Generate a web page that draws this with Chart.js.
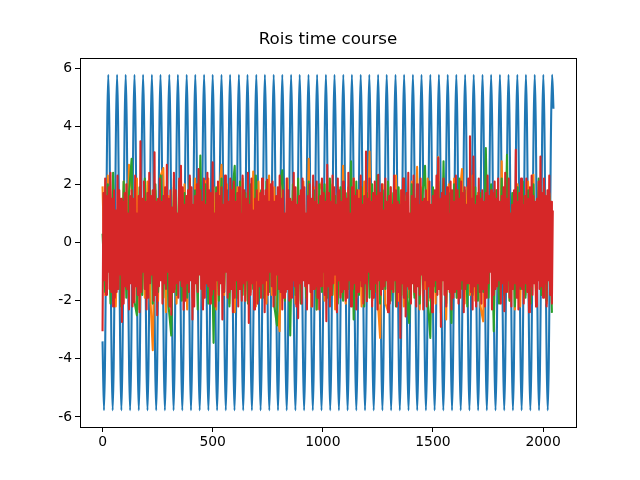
<!DOCTYPE html>
<html>
<head>
<meta charset="utf-8">
<script src="https://cdn.jsdelivr.net/npm/chart.js@4"></script>
<style>
  html, body { margin: 0; padding: 0; background: #fff; }
  #wrap { width: 640px; height: 480px; }
</style>
</head>
<body>
<div id="wrap"><canvas id="roisChart" width="640" height="480"></canvas></div>
<script>
const chartTitle = 'Rois time course';
const xTicks = [0, 500, 1000, 1500, 2000];
const yTicks = [-6, -4, -2, 0, 2, 4, 6];

// blue roi: turning points (x, value)
const blueX = [0,
  6.5, 26, 46, 66, 85.5, 105, 125, 145, 164.5, 184, 204, 224, 243.5, 263, 283, 303,
  322.5, 342, 362, 382, 401.5, 421, 441, 461, 480.5, 500, 520, 540, 559.5, 579, 599, 619,
  638.5, 658, 678, 698, 717.5, 737, 757, 777, 796.5, 816, 836, 856, 875.5, 895, 915, 935,
  954.5, 974, 994, 1014, 1033.5, 1053, 1073, 1093, 1112.5, 1132, 1152, 1172, 1191.5, 1211, 1231, 1251,
  1270.5, 1290, 1310, 1330, 1349.5, 1369, 1389, 1409, 1428.5, 1448, 1468, 1488, 1507.5, 1527, 1547, 1567,
  1586.5, 1606, 1626, 1646, 1665.5, 1685, 1705, 1725, 1744.5, 1764, 1784, 1804, 1823.5, 1843, 1863, 1883,
  1902.5, 1922, 1942, 1962, 1981.5, 2001, 2021, 2041,
  2047];
const blueY = [-3.4,
  -5.77, 5.77, -5.77, 5.77, -5.77, 5.77, -5.77, 5.77, -5.77, 5.77, -5.77, 5.77, -5.77, 5.77, -5.77, 5.77,
  -5.77, 5.77, -5.77, 5.77, -5.77, 5.77, -5.77, 5.77, -5.77, 5.77, -5.77, 5.77, -5.77, 5.77, -5.77, 5.77,
  -5.77, 5.77, -5.77, 5.77, -5.77, 5.77, -5.77, 5.77, -5.77, 5.77, -5.77, 5.77, -5.77, 5.77, -5.77, 5.77,
  -5.77, 5.77, -5.77, 5.77, -5.77, 5.77, -5.77, 5.77, -5.77, 5.77, -5.77, 5.77, -5.77, 5.77, -5.77, 5.77,
  -5.77, 5.77, -5.77, 5.77, -5.77, 5.77, -5.77, 5.77, -5.77, 5.77, -5.77, 5.77, -5.77, 5.77, -5.77, 5.77,
  -5.77, 5.77, -5.77, 5.77, -5.77, 5.77, -5.77, 5.77, -5.77, 5.77, -5.77, 5.77, -5.77, 5.77, -5.77, 5.77,
  -5.77, 5.77, -5.77, 5.77, -5.77, 5.77, -5.77, 5.77,
  4.6];

// orange roi, one value every 12 samples
const orangeStep = 12;
const orangeY = [
  1.93, -1.8, 2.3, -1.5, 2.0, -2.2, 1.6, -1.9, 2.1, -1.6, 2.67, 1.8, -2.05, 2.2, -2.3, 1.5,
  -1.9, 2.1, -1.7, -3.7, 1.8, -2.0, 2.3, 2.56, -2.4, 1.6, -1.8, 2.2, -2.1, 1.9, -1.5, 2.0,
  -2.3, 1.7, -1.9, 2.2, -1.6, 1.8, -2.2, 2.1, 2.2, -2.0, 1.9, -2.3, 1.5, 2.67, -1.8, 2.0,
  -2.1, 1.7, -2.4, 1.9, -1.6, 2.2, -2.0, 1.8, -1.7, 2.44, -2.2, 2.1, -1.9, 1.6, -2.1, 2.3,
  -1.8, 1.9, -2.3, -3.05, 2.0, -1.6, 2.2, -1.9, 1.8, -2.1, 1.7, -2.0, 2.1, -1.7, 2.88, -2.2,
  1.9, -2.3, 1.8, 2.1, -2.0, 2.2, -1.6, 2.0, -2.3, 1.7, -1.8, 2.64, -2.1, 1.9, -1.7, 2.2,
  -1.9, 1.8, -2.2, 2.1, -1.6, 3.13, -2.0, 1.7, -1.8, -3.28, 2.0, -2.1, -2.36, 1.9, -1.7, 2.3,
  -2.0, 1.8, -2.2, 1.6, -1.9, 2.1, -1.8, 2.6, -2.3, 1.9, -1.6, 2.2, -2.0, 1.7, -2.1, 2.94,
  -2.42, 1.8, -2.65, 2.0, -1.7, 2.2, -1.9, 1.6, 2.53, -2.1, 1.9, -1.8, 2.3, -2.0, 1.7, -2.2,
  -2.71, 2.1, -1.6, 1.9, -2.1, 1.8, -1.9, 2.79, -1.7, 2.2, -2.0, 1.6, -2.3, 2.0, -2.2, 1.7,
  -1.8, 2.1, -1.9, 2.33, -2.2, 1.8, -1.6, 2.0, -2.1, 1.7, 0.3
];

// green roi, one value every 12 samples
const greenStep = 12;
const greenY = [
  0.3, -1.7, 2.0, -2.1, 2.4, -1.6, 1.8, -2.2, 2.1, -1.9, 1.7, 2.88, -2.0, -2.5, 1.9, -1.8,
  2.2, -1.6, 1.8, -2.1, 2.0, -1.7, 2.3, -1.9, 1.6, -2.2, -3.2, 1.9, -1.8, 2.1, -2.0, 1.7,
  -1.9, 2.2, -1.6, 1.8, -2.3, 2.99, -1.8, 2.0, -2.1, 1.7, -3.45, 1.9, -2.0, 2.2, -1.7, 1.8,
  -2.2, 1.6, 2.64, -1.9, 2.1, -1.8, 1.7, -2.1, 2.0, -1.6, 2.3, -2.0, 1.8, -1.9, 2.1, -1.7,
  1.9, -2.2, -2.85, 1.8, 2.48, -2.0, 1.6, -3.2, 2.0, -1.8, 2.2, -2.1, 1.7, -1.9, 2.1, -1.6,
  1.8, -2.3, 2.0, -1.7, 2.0, -1.9, 2.2, -1.8, 1.6, -2.1, 1.9, -2.0, 1.7, -1.6, 2.79, -2.65,
  2.1, -1.8, 1.9, -2.2, 1.7, -1.9, 2.0, -1.7, 2.3, -2.1, 1.8, -1.6, 2.1, -2.0, 1.7, -2.2,
  1.9, -1.8, 2.2, -1.7, -2.77, 2.0, -1.9, 1.8, -2.1, 1.6, 2.64, -2.0, -3.28, 1.9, -1.7, 2.1,
  -1.8, 2.79, -2.1, 1.7, -2.77, 2.0, -1.9, 2.2, -1.6, 1.8, -2.2, 2.1, -1.8, 1.9, -2.0, 1.7,
  -1.7, 3.25, -1.9, 2.0, -3.05, 1.8, -2.1, 2.2, -1.8, 3.02, -2.0, 1.7, -2.2, 1.9, -1.6, 2.1,
  -1.9, 1.8, -2.1, 2.0, -1.7, 2.2, -1.8, 1.9, -2.0, 1.6, -2.42
];

// red roi, one value every 4 samples
const redStep = 4;
const redY = [
  -3.05, 1.7, -1.3, 2.2, -1.8, 1.6, -1.0, 1.9, -1.6, 2.4, -1.7, 1.5, -2.2, 1.8, -1.9, 1.1,
  -1.7, 2.3, -1.6, 1.8, -1.1, 1.5, -2.73, 1.4, -2.1, 1.7, -1.5, 2.0, -1.6, 1.0, -2.3, 1.6,
  -1.4, 1.8, -2.2, 1.5, -2.05, 2.3, -1.5, 1.0, -1.8, 1.6, -2.4, 3.48, -1.7, 1.5, -1.0, 2.1,
  -1.6, 1.4, -2.3, 1.7, -1.9, 2.4, -1.4, 1.6, -1.1, 1.8, -2.0, 3.1, -1.8, 1.4, -2.5, 1.5,
  -1.5, 2.2, -1.3, 1.4, -2.1, 1.6, -1.4, 1.9, -1.6, 2.67, -1.0, 1.5, -2.2, 1.8, -2.48, 1.2,
  -1.7, 2.4, -1.6, 1.8, -1.4, 1.0, -1.9, 2.2, -1.3, 2.64, -1.5, 1.9, -2.31, 1.3, -2.0, 1.6,
  -1.4, 1.8, -1.7, 2.3, -1.3, 1.9, -2.65, 1.3, -2.2, 1.6, -1.4, 2.0, -1.7, 2.53, -1.1, 1.8,
  -1.6, 1.4, -2.3, 2.2, -1.9, 1.3, -1.4, 2.4, -1.5, 1.8, -2.1, 1.7, -1.8, 2.76, -1.6, 1.0,
  -2.2, 1.7, -1.3, 2.1, -1.8, 1.6, -1.4, 1.9, -2.65, 1.3, -1.7, 2.3, -1.0, 1.8, -1.9, 1.4,
  -1.7, 2.2, -1.6, 1.8, -2.4, 2.1, -1.9, 1.4, -1.3, 1.7, -2.2, 1.9, -1.6, 1.0, -2.0, 2.3,
  -1.4, 1.8, -2.0, 1.5, -1.3, 2.4, -2.77, 1.3, -1.8, 2.2, -1.4, 1.1, -2.3, 1.5, -1.3, 1.8,
  -2.1, 1.4, -1.5, 1.7, -1.9, 2.2, -1.4, 1.6, -2.4, 1.8, -1.3, 2.16, -1.8, 1.4, -1.0, 2.0,
  -1.5, 2.1, -2.2, 1.4, -1.8, 1.6, -1.1, 1.9, -1.6, 2.3, -1.7, 1.5, -2.3, 1.8, -1.9, 1.0,
  -1.7, 2.2, -1.6, 1.8, -2.0, 1.5, -1.9, 1.4, -1.3, 2.4, -1.5, 1.9, -2.2, 1.3, -2.6, 1.6,
  -1.4, 1.8, -2.1, 2.2, -1.3, 1.9, -1.5, 1.0, -2.3, 1.6, -1.4, 2.0, -1.7, 1.5, -2.2, 2.3,
  -1.6, 1.4, -1.5, 2.1, -1.9, 1.3, -2.3, 1.6, -1.5, 2.2, -1.0, 1.7, -1.8, 1.4, -2.71, 2.67,
  -1.5, 1.7, -2.2, 1.4, -1.8, 2.3, -1.4, 1.9, -1.1, 1.3, -2.4, 2.2, -1.3, 1.8, -1.9, 1.4,
  -1.7, 2.1, -1.6, 1.8, -2.0, 1.5, -1.9, 2.4, -1.3, 1.0, -2.2, 1.9, -1.6, 2.2, -1.4, 1.6,
  -2.3, 1.8, -1.7, 1.5, -1.3, 2.3, -1.5, 1.3, -2.1, 1.6, -1.4, 3.13, -2.02, 1.5, -1.0, 2.2,
  -1.6, 1.4, -2.2, 1.7, -1.9, 2.1, -1.4, 1.6, -2.3, 2.33, -1.3, 1.7, -1.8, 2.0, -1.6, 1.1,
  -1.5, 2.2, -1.3, 1.4, -2.4, 1.6, -2.1, 1.9, -1.6, 1.3, -1.7, 2.3, -1.3, 1.8, -2.2, 1.4,
  -1.7, 1.3, -3.28, 1.8, -1.4, 2.2, -1.9, 1.4, -2.54, 1.7, -1.5, 2.4, -1.6, 1.0, -2.1, 1.6,
  -1.4, 2.3, -1.7, 1.5, -2.2, 2.0, -1.5, 1.3, -1.8, 2.2, -1.1, 1.4, -2.3, 1.5, -1.3, 1.8,
  -2.2, 1.4, -1.5, 2.1, -1.9, 1.3, -2.4, 1.6, -1.5, 1.8, -1.3, 2.3, -1.8, 2.91, -1.6, 1.5,
  -2.9, 1.7, -1.3, 2.2, -1.8, 1.6, -2.2, 1.9, -1.6, 1.0, -1.7, 2.1, -2.3, 1.8, -1.9, 1.4,
  -1.7, 2.3, -1.6, 1.8, -2.1, 1.5, -1.9, 2.1, -1.3, 1.7, -2.4, 1.9, -1.6, 1.3, -1.4, 2.2,
  -1.4, 3.65, -1.7, 1.5, -2.3, 2.96, -1.5, 1.3, -2.2, 1.6, -1.4, 2.2, -1.7, 1.5, -2.1, 1.8,
  -1.6, 1.4, -2.2, 1.7, -1.9, 2.3, -1.4, 1.6, -1.0, 1.8, -2.3, 1.7, -1.8, 2.1, -1.6, 1.5,
  -1.5, 2.2, -1.3, 1.4, -2.1, 1.6, -1.4, 1.9, -2.36, 2.4, -1.7, 1.5, -1.3, 2.2, -1.9, 1.0,
  -2.2, 1.3, -1.6, 1.8, -1.4, 3.19, -1.9, 1.4, -2.3, 1.7, -1.5, 2.2, -1.6, 1.3, -2.1, 1.6,
  -1.4, 2.2, -1.7, 1.5, -2.4, 1.9, -1.5, 2.3, -1.8, 1.6, -1.4, 1.4, -2.2, 1.5, -1.3, 2.1,
  -1.6, 2.96, -1.5, 1.7, -1.9, 2.2, -1.4, 1.6, -2.2, 1.8, -1.3, 2.3, -1.8, 1.4, -2.1, 1.1
];

const xMin = -102.35, xMax = 2149.35;
const yMin = -6.344, yMax = 6.344;
const lineW = 2.08; // 1.5pt at 100 dpi

function toPoints(values, step) {
  return values.map((v, i) => ({ x: i * step, y: v }));
}

// full black frame round the plot area, like matplotlib spines
const frameBox = {
  id: 'frameBox',
  afterDraw(chart) {
    const a = chart.chartArea;
    const ctx = chart.ctx;
    ctx.save();
    ctx.strokeStyle = '#000';
    ctx.lineWidth = 1;
    ctx.strokeRect(Math.round(a.left) + 0.5, Math.round(a.top) + 0.5,
      Math.round(a.right - a.left), Math.round(a.bottom - a.top));
    ctx.restore();
  }
};

const tickFont = { family: 'DejaVu Sans', size: 13.9 };

const ctx = document.getElementById('roisChart').getContext('2d');
new Chart(ctx, {
  type: 'line',
  data: {
    datasets: [
      {
        data: blueX.map((x, i) => ({ x: x, y: blueY[i] })),
        borderColor: '#1f77b4',
        borderWidth: lineW,
        cubicInterpolationMode: 'monotone',
        order: 4
      },
      {
        data: toPoints(orangeY, orangeStep),
        borderColor: '#ff7f0e',
        borderWidth: lineW,
        order: 3
      },
      {
        data: toPoints(greenY, greenStep),
        borderColor: '#2ca02c',
        borderWidth: lineW,
        order: 2
      },
      {
        data: toPoints(redY, redStep),
        borderColor: '#d62728',
        borderWidth: lineW,
        order: 1
      }
    ]
  },
  options: {
    responsive: false,
    devicePixelRatio: 1,
    animation: false,
    parsing: false,
    normalized: true,
    elements: {
      point: { radius: 0, hoverRadius: 0 },
      line: { fill: false, tension: 0, borderJoinStyle: 'round' }
    },
    layout: { padding: { left: 0, right: 64, top: 0, bottom: 0 } },
    plugins: {
      legend: { display: false },
      tooltip: { enabled: false },
      title: {
        display: true,
        text: chartTitle,
        fullSize: false,
        color: '#000',
        font: { family: 'DejaVu Sans', size: 16.7, weight: 'normal' },
        padding: { top: 30, bottom: 8 }
      }
    },
    scales: {
      x: {
        type: 'linear',
        min: xMin,
        max: xMax,
        afterBuildTicks: (s) => { s.ticks = xTicks.map(v => ({ value: v })); },
        afterFit: (s) => { s.height = 53; },
        ticks: { color: '#000', font: tickFont, padding: 2, maxRotation: 0, callback: (v) => String(v) },
        grid: { display: true, drawOnChartArea: false, drawTicks: true, tickLength: 5, color: '#000', lineWidth: 1 },
        border: { display: true, color: '#000', width: 1 }
      },
      y: {
        type: 'linear',
        min: yMin,
        max: yMax,
        afterBuildTicks: (s) => { s.ticks = yTicks.map(v => ({ value: v })); },
        afterFit: (s) => { s.width = 80; },
        ticks: { color: '#000', font: tickFont, padding: 3, callback: (v) => String(v) },
        grid: { display: true, drawOnChartArea: false, drawTicks: true, tickLength: 5, color: '#000', lineWidth: 1 },
        border: { display: true, color: '#000', width: 1 }
      }
    }
  },
  plugins: [frameBox]
});
</script>
</body>
</html>
